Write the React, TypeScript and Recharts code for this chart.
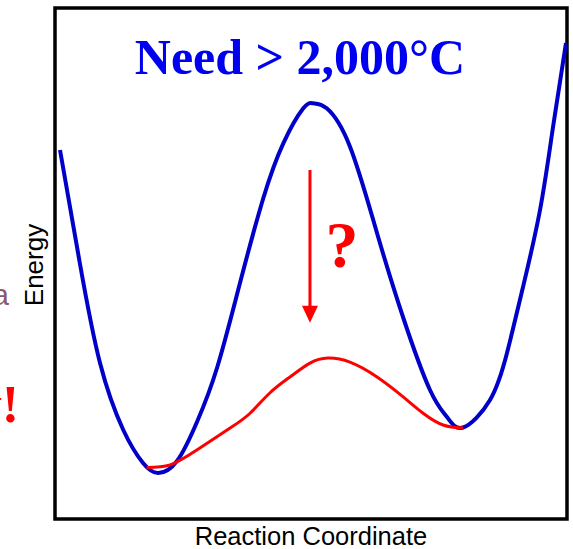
import React from "react";
import {
  LineChart,
  Line,
  XAxis,
  YAxis,
  ReferenceArea,
  ReferenceLine,
  ReferenceDot,
} from "recharts";

// uncatalysed path (blue)
const blueX = [
  0.98, 4.88, 8.79, 13.34, 17.19, 20.12, 23.83, 27.73, 31.64, 36.13, 40.68,
  44.59, 48.5, 50.45, 53.07, 57.62, 62.89, 67.97, 73.24, 76.56, 79.69, 84.96,
  88.28, 91.41, 94.73, 97.27, 99.8,
];
const blueEnergy = [
  72.21, 49.9, 30.53, 17.42, 10.96, 9.0, 11.35, 18.98, 29.55, 46.18, 62.76,
  73.52, 80.37, 81.35, 80.37, 72.86, 55.97, 39.53, 25.24, 19.96, 17.91, 23.29,
  32.49, 45.4, 60.47, 76.71, 93.15,
];

// catalysed path (red)
const redX = [
  17.9, 22.5, 27.7, 34.2, 38.1, 42.0, 45.9, 49.8, 53.3, 57.6, 62.9, 68.0,
  71.9, 75.8, 79.7,
];
const redEnergy = [
  10.1, 10.6, 13.5, 17.8, 20.7, 24.7, 27.8, 30.5, 31.5, 30.7, 27.8, 23.9,
  20.7, 18.4, 17.8,
];

const arrowX = 49.8;
const arrowFrom = 68.3;
const arrowTo = 38.4;

const title = "Need > 2,000°C";
const xLabel = "Reaction Coordinate";
const yLabel = "Energy";

const blueData = blueX.map((x, i) => ({ x, energy: blueEnergy[i] }));
const redData = redX.map((x, i) => ({ x, energy: redEnergy[i] }));

const ArrowHead = (props: any) => {
  const { cx, cy } = props;
  return (
    <polygon
      points={`${cx - 8},${cy - 17} ${cx + 8},${cy - 17} ${cx},${cy}`}
      fill="#ff0000"
    />
  );
};

export default function App() {
  return (
    <div style={{ position: "absolute", left: 0, top: 0 }}>
      <LineChart
        width={573}
        height={549}
        margin={{ top: 8, right: 6, left: 55, bottom: 30 }}
      >
        <XAxis type="number" dataKey="x" domain={[0, 100]} hide allowDataOverflow />
        <YAxis type="number" domain={[0, 100]} hide allowDataOverflow />
        <Line
          data={blueData}
          dataKey="energy"
          type="natural"
          stroke="#0000c8"
          strokeWidth={4}
          dot={false}
          isAnimationActive={false}
        />
        <Line
          data={redData}
          dataKey="energy"
          type="natural"
          stroke="#ff0000"
          strokeWidth={3}
          dot={false}
          isAnimationActive={false}
        />
        <ReferenceLine
          segment={[
            { x: arrowX, y: arrowFrom },
            { x: arrowX, y: arrowTo + 3 },
          ]}
          stroke="#ff0000"
          strokeWidth={3}
        />
        <ReferenceDot x={arrowX} y={arrowTo} shape={ArrowHead} />
        <ReferenceArea
          x1={0}
          x2={100}
          y1={0}
          y2={100}
          fill="none"
          stroke="#000"
          strokeWidth={3.5}
          fillOpacity={0}
        />
        <text
          x={300}
          y={74}
          textAnchor="middle"
          fill="#0000f0"
          style={{ fontFamily: "Liberation Serif", fontWeight: "bold", fontSize: 50 }}
        >
          {title}
        </text>
        <text
          x={342}
          y={267}
          textAnchor="middle"
          fill="#ff0000"
          style={{ fontFamily: "Liberation Serif", fontWeight: "bold", fontSize: 66 }}
        >
          ?
        </text>
        <text
          x={311}
          y={545}
          textAnchor="middle"
          fill="#000"
          style={{ fontFamily: "Liberation Sans", fontSize: 25.5 }}
        >
          {xLabel}
        </text>
        <text
          x={43}
          y={265}
          textAnchor="middle"
          transform="rotate(-90 43 265)"
          fill="#000"
          style={{ fontFamily: "Liberation Sans", fontSize: 26 }}
        >
          {yLabel}
        </text>
        {/* slide text cut off at the left edge */}
        <text
          x={9}
          y={305}
          textAnchor="end"
          fill="#8a5a72"
          style={{ fontFamily: "Liberation Sans", fontSize: 30 }}
        >
          a
        </text>
        <text
          x={19}
          y={422}
          textAnchor="end"
          fill="#ff0000"
          style={{ fontFamily: "Liberation Serif", fontWeight: "bold", fontSize: 52 }}
        >
          y!
        </text>
      </LineChart>
    </div>
  );
}
